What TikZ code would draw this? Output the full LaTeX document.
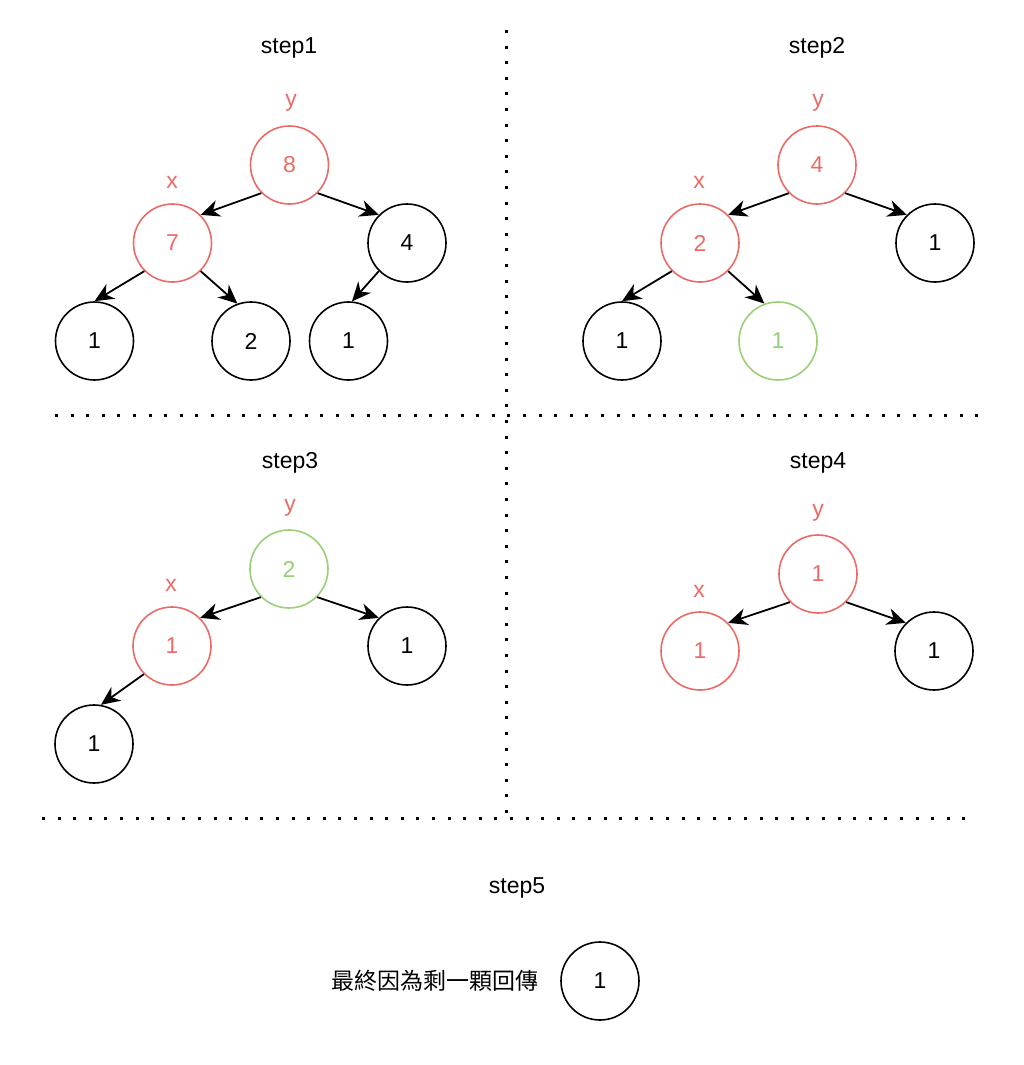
\documentclass[tikz,border=0pt]{standalone}
\usepackage{fontspec}
\setmainfont{Liberation Sans}
\newfontfamily\cjkfont{Noto Sans CJK TC}
\usetikzlibrary{arrows.meta}
\definecolor{redc}{HTML}{EA6B66}
\definecolor{greenc}{HTML}{97D077}
\begin{document}
\begin{tikzpicture}[x=1pt,y=-1pt,
  every node/.style={font=\fontsize{23}{27}\selectfont},
  nd/.style={circle,draw,line width=1.6pt,minimum size=78pt,inner sep=0pt},
  rednd/.style={nd,draw=redc,text=redc},
  greennd/.style={nd,draw=greenc,text=greenc},
  lbl/.style={text=redc,inner sep=1pt},
  ttl/.style={inner sep=1pt},
  arr/.style={line width=1.8pt,-{Stealth[length=19pt,width=17pt,inset=6pt]}},
  dotline/.style={line width=3pt,dash pattern=on 3pt off 12.6pt}]
\useasboundingbox (0,0) rectangle (1024,1065);
% separators
\draw[dotline] (506,30) -- (506,815);
\draw[dotline] (55,415) -- (990,415);
\draw[dotline] (42,818) -- (975,818);
% step1
\node[ttl] (t1) at (289,48) {step1};
\node[lbl] (y1) at (291,103) {y};
\node[lbl] (x1) at (172,182) {x};
\node[rednd] (a8) at (289.5,165) {8};
\node[rednd] (a7) at (172.5,243) {7};
\node[nd] (a4) at (407,243) {4};
\node[nd] (a1l) at (94.5,341) {1};
\node[nd] (a2) at (251,341) {2};
\node[nd] (a1r) at (348.5,341) {1};
\draw[arr] (a8.-135) -- (a7.45);
\draw[arr] (a8.-45) -- (a4.135);
\draw[arr] (a7.-135) -- (a1l.north);
\draw[arr] (a7.-45) -- (a2.110);
\draw[arr] (a4.-135) -- (a1r.85);
% step2
\node[ttl] (t2) at (817,48) {step2};
\node[lbl] (y2) at (818,103) {y};
\node[lbl] (x2) at (699,182) {x};
\node[rednd] (b4) at (817,165) {4};
\node[rednd] (b2) at (700,243) {2};
\node[nd] (b1r) at (935,243) {1};
\node[nd] (b1l) at (622,341) {1};
\node[greennd] (b1g) at (778,341) {1};
\draw[arr] (b4.-135) -- (b2.45);
\draw[arr] (b4.-45) -- (b1r.135);
\draw[arr] (b2.-135) -- (b1l.north);
\draw[arr] (b2.-45) -- (b1g.110);
% step3
\node[ttl] (t3) at (290,463) {step3};
\node[lbl] (y3) at (290,508) {y};
\node[lbl] (x3) at (171,585) {x};
\node[greennd] (c2) at (289,569) {2};
\node[rednd] (c1) at (172,646) {1};
\node[nd] (c1r) at (407,646) {1};
\node[nd] (c1l) at (94,744) {1};
\draw[arr] (c2.-135) -- (c1.45);
\draw[arr] (c2.-45) -- (c1r.135);
\draw[arr] (c1.-135) -- (c1l.80);
% step4
\node[ttl] (t4) at (818,463) {step4};
\node[lbl] (y4) at (818,513) {y};
\node[lbl] (x4) at (699,591) {x};
\node[rednd] (d1) at (818,574) {1};
\node[rednd] (d1x) at (700,651) {1};
\node[nd] (d1r) at (934,651) {1};
\draw[arr] (d1.-135) -- (d1x.45);
\draw[arr] (d1.-45) -- (d1r.135);
% step5
\node[ttl] (t5) at (517,888) {step5};
\node[inner sep=0pt] (msg) at (435,981) {\cjkfont 最終因為剩一顆回傳};
\node[nd] (e1) at (600,981) {1};
\end{tikzpicture}
\end{document}
